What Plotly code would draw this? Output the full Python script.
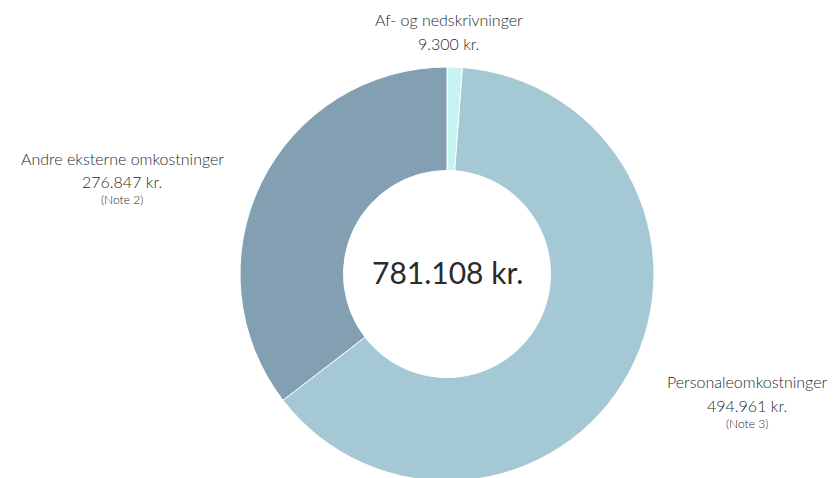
import plotly.graph_objects as go

labels = ["Af- og nedskrivninger", "Personaleomkostninger", "Andre eksterne omkostninger"]
values = [9300, 494961, 276847]
value_text = ["9.300 kr.", "494.961 kr.", "276.847 kr."]
notes = ["", "(Note 3)", "(Note 2)"]
colors = ["#c8f3f3", "#a5c9d4", "#82a0b2"]
total_text = "781.108 kr."

OFF = 8  # page body margin
W, H = 837 - OFF, 481 - OFF
cx, cy, r = 447, 274, 207

def px(x, y):
    return (x - OFF) / W, 1 - (y - OFF) / H

x0, y0 = px(cx - r, cy + r)
x1, y1 = px(cx + r, cy - r)

fig = go.Figure(go.Pie(
    labels=labels, values=values, sort=False, direction="clockwise", rotation=0,
    hole=0.5, textinfo="none", hoverinfo="label+value",
    marker=dict(colors=colors, line=dict(color="white", width=1)),
    domain=dict(x=[x0, x1], y=[y0, y1]),
    showlegend=False,
))

font = "Lato Light, Lato, sans-serif"
tc = "#2a2a2a"

label_pos = [(449, 20), (747, 381), (122, 158)]
for i, (lx, ly) in enumerate(label_pos):
    ax, ay = px(lx, ly)
    fig.add_annotation(x=ax, y=ay, xref="paper", yref="paper", text=labels[i], showarrow=False,
                       font=dict(family=font, size=16, color=tc), xanchor="center", yanchor="middle")
    ax, ay = px(lx, ly + 24)
    fig.add_annotation(x=ax, y=ay, xref="paper", yref="paper", text=value_text[i], showarrow=False,
                       font=dict(family=font, size=16, color=tc), xanchor="center", yanchor="middle")
    if notes[i]:
        ax, ay = px(lx, ly + 42)
        fig.add_annotation(x=ax, y=ay, xref="paper", yref="paper", text=notes[i], showarrow=False,
                           font=dict(family=font, size=12, color=tc), xanchor="center", yanchor="middle")

ax, ay = px(cx, 272)
fig.add_annotation(x=ax, y=ay, xref="paper", yref="paper", text=total_text, showarrow=False,
                   font=dict(family="Lato, sans-serif", size=30, color=tc), xanchor="center", yanchor="middle")

fig.update_layout(width=W, height=H, margin=dict(l=0, r=0, t=0, b=0),
                  paper_bgcolor="white", plot_bgcolor="white")
fig.write_html("out.html")
